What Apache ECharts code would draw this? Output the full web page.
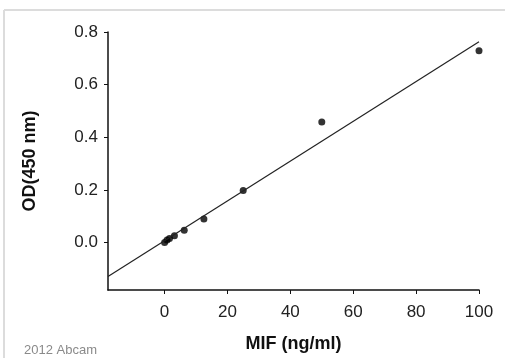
<!DOCTYPE html>
<html>
<head>
<meta charset="utf-8">
<script src="https://cdn.jsdelivr.net/npm/echarts@6/dist/echarts.min.js"></script>
<style>html,body{margin:0;padding:0;background:#fff;}#c{width:505px;height:358px;}</style>
</head>
<body>
<div id="c"></div>
<script>
// Data
var concentrations = [0, 0.78, 1.56, 3.125, 6.25, 12.5, 25, 50, 100];
var odValues = [0.0, 0.01, 0.016, 0.026, 0.047, 0.09, 0.198, 0.458, 0.729];
var fitX = [-18, 100];
var fitY = [-0.129, 0.763];
var xTicks = [0, 20, 40, 60, 80, 100];
var yTicks = [0, 0.2, 0.4, 0.6, 0.8];

var chart = echarts.init(document.getElementById('c'), null, {renderer: 'canvas'});
var font = 'Arial, "Liberation Sans", sans-serif';
chart.setOption({
  animation: false,
  backgroundColor: '#ffffff',
  grid: {left: 108, right: 26, top: 32, bottom: 68},
  graphic: [
    {type: 'line', shape: {x1: 4, y1: 10, x2: 505, y2: 10}, style: {stroke: '#dcdcdc', lineWidth: 2}},
    {type: 'line', shape: {x1: 4, y1: 10, x2: 4, y2: 358}, style: {stroke: '#dcdcdc', lineWidth: 2}},
    {type: 'text', left: 24, top: 344, style: {text: '2012 Abcam', fill: '#8a8a8a', font: '13px ' + font}}
  ],
  xAxis: {
    type: 'value', min: -18, max: 100,
    name: 'MIF (ng/ml)', nameLocation: 'middle', nameGap: 45,
    nameTextStyle: {fontFamily: font, fontWeight: 'bold', fontSize: 18, color: '#111'},
    axisLine: {show: true, onZero: false, lineStyle: {color: '#111', width: 1.5}},
    axisTick: {show: true, length: 4, lineStyle: {color: '#111'}, customValues: xTicks},
    axisLabel: {fontFamily: font, fontSize: 17, color: '#222', margin: 14, customValues: xTicks},
    splitLine: {show: false}
  },
  yAxis: {
    type: 'value', min: -0.18, max: 0.8,
    name: 'OD(450 nm)', nameLocation: 'middle', nameGap: 69,
    nameTextStyle: {fontFamily: font, fontWeight: 'bold', fontSize: 18, color: '#111'},
    axisLine: {show: true, onZero: false, lineStyle: {color: '#111', width: 1.5}},
    axisTick: {show: true, length: 4, lineStyle: {color: '#111'}, customValues: yTicks},
    axisLabel: {fontFamily: font, fontSize: 17, color: '#222', margin: 10, customValues: yTicks,
      formatter: function (v) { return v.toFixed(1); }},
    splitLine: {show: false}
  },
  series: [
    {
      type: 'line',
      data: fitX.map(function (x, i) { return [x, fitY[i]]; }),
      showSymbol: false, symbol: 'none',
      lineStyle: {color: '#222', width: 1.2},
      silent: true
    },
    {
      type: 'scatter',
      data: concentrations.map(function (x, i) { return [x, odValues[i]]; }),
      symbol: 'circle', symbolSize: 7,
      itemStyle: {color: '#000'}
    }
  ]
});
</script>
</body>
</html>
